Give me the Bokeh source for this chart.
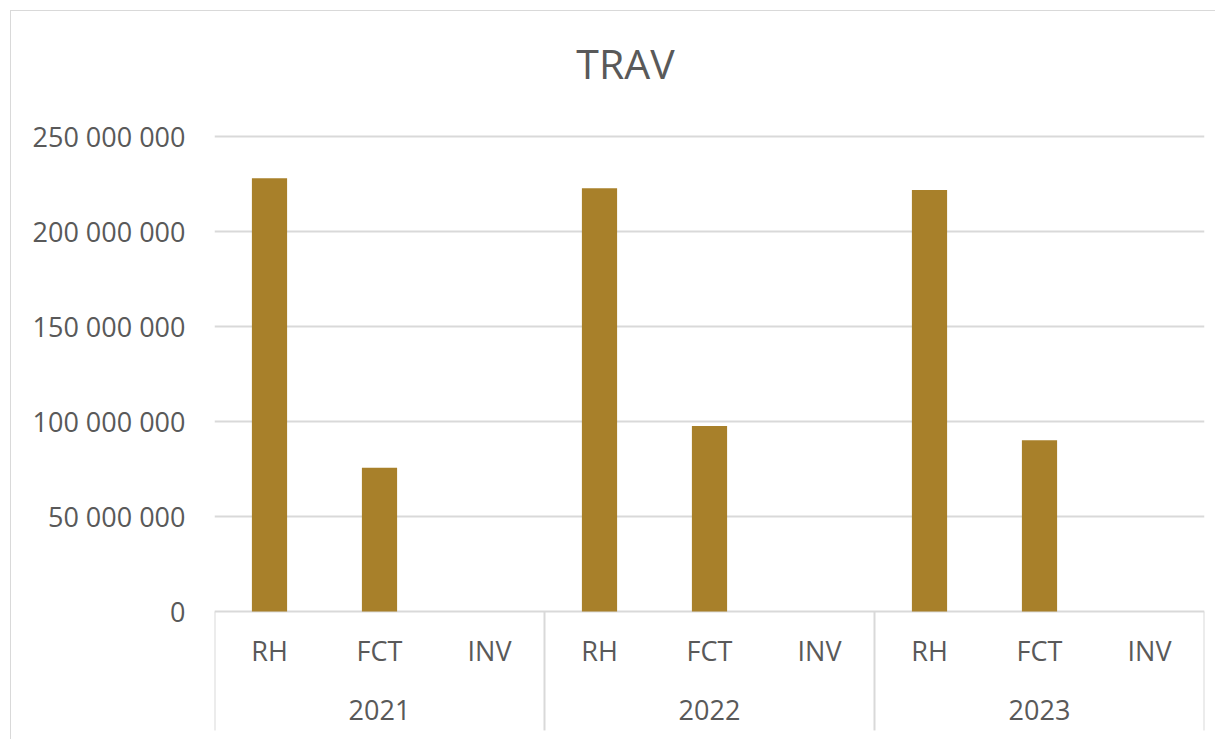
from bokeh.plotting import figure
from bokeh.models import FixedTicker, Range1d
from bokeh.core.properties import value
from bokeh.embed import file_html
from bokeh.resources import INLINE

# ---- data ----
years = ["2021", "2022", "2023"]
categories = ["RH", "FCT", "INV"]
values_2021 = [228_000_000, 75_600_000, 0]
values_2022 = [222_800_000, 97_700_000, 0]
values_2023 = [221_900_000, 90_200_000, 0]
y_ticks = [0, 50_000_000, 100_000_000, 150_000_000, 200_000_000, 250_000_000]
y_tick_labels = ["0", "50 000 000", "100 000 000", "150 000 000", "200 000 000", "250 000 000"]
title_text = "TRAV"

# ---- styling ----
BAR = "#A8802A"
TXT = "#595959"
GRID = "#D9D9D9"
FONT = "Open Sans"

series = [values_2021, values_2022, values_2023]
n_cat = len(categories)
xs, tops, cat_labels = [], [], []
for gi, vals in enumerate(series):
    for ci, v in enumerate(vals):
        xs.append(gi * n_cat + ci + 0.5)
        tops.append(v)
        cat_labels.append(categories[ci])
group_x = [gi * n_cat + n_cat / 2 for gi in range(len(years))]
sep_x = [gi * n_cat for gi in range(len(years) + 1)]

W, H = 1205, 729
p = figure(width=W, height=H, output_backend="svg", toolbar_location=None,
           x_range=Range1d(0, len(years) * n_cat),
           y_range=Range1d(-67_890_000, 315_790_000),
           x_axis_location=None, y_axis_location="left",
           min_border_left=203, min_border_right=12, min_border_top=0, min_border_bottom=0,
           styles={"margin-left": "10px", "margin-top": "10px",
                   "border-left": "1px solid #D9D9D9", "border-top": "1px solid #D9D9D9"})
p.outline_line_color = None
p.background_fill_color = "white"
p.border_fill_color = "white"

p.xgrid.visible = False
p.ygrid.ticker = FixedTicker(ticks=y_ticks)
p.ygrid.grid_line_color = GRID
p.ygrid.grid_line_width = 2

ax = p.yaxis[0]
ax.ticker = FixedTicker(ticks=y_ticks)
ax.major_label_overrides = {t: l for t, l in zip(y_ticks, y_tick_labels)}
ax.axis_line_color = None
ax.major_tick_line_color = None
ax.minor_tick_line_color = None
ax.major_tick_in = 0
ax.major_tick_out = 0
ax.major_label_standoff = 29
ax.major_label_text_font = FONT
ax.major_label_text_font_size = "27px"
ax.major_label_text_color = TXT

p.vbar(x=xs, top=tops, bottom=0, width=0.32, fill_color=BAR, line_color=None)

p.segment(x0=sep_x, y0=[0] * len(sep_x), x1=sep_x, y1=[-62_600_000] * len(sep_x),
          line_color=GRID, line_width=2)

p.text(x=xs, y=[-20_500_000] * len(xs), text=cat_labels,
       text_font=value(FONT), text_font_size="27px", text_color=TXT,
       text_align="center", text_baseline="middle")
p.text(x=group_x, y=[-52_100_000] * len(group_x), text=years,
       text_font=value(FONT), text_font_size="27px", text_color=TXT,
       text_align="center", text_baseline="middle")
p.text(x=[3.736], y=[288_800_000], text=[title_text],
       text_font=value(FONT), text_font_size="41px", text_color=TXT,
       text_align="center", text_baseline="middle")

open("out.html", "w").write(file_html(p, INLINE))
